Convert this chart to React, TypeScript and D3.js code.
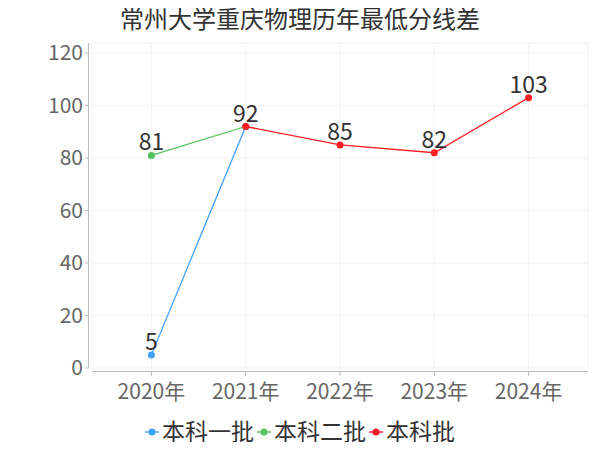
import React from 'react';
import * as d3 from 'd3';

const years = ['2020年', '2021年', '2022年', '2023年', '2024年'];
const yTicks = [0, 20, 40, 60, 80, 100, 120];

const seriesNames = ['本科一批', '本科二批', '本科批'];
const seriesColors = ['#3fa2ff', '#55c15c', '#ff1c24'];
// null = no value for that year
const yiPi: (number | null)[] = [5, 92, null, null, null];
const erPi: (number | null)[] = [81, 92, null, null, null];
const benKePi: (number | null)[] = [null, 92, 85, 82, 103];
const seriesValues = [yiPi, erPi, benKePi];

const W = 600;
const H = 450;
const font = '"Noto Sans CJK SC", "Noto Sans", sans-serif';

const App: React.FC = () => {
  const left = 92;
  const right = 588;
  const top = 43;
  const x = d3.scalePoint<string>().domain(years).range([left, right]).padding(0.63);
  const y = d3.scaleLinear().domain([0, 120]).range([368, 53]);

  const line = d3
    .line<[string, number | null]>()
    .defined(d => d[1] !== null)
    .x(d => x(d[0])!)
    .y(d => y(d[1] as number));

  const vGrid = [left, ...years.map(d => x(d)!), right];
  const hGrid = [...yTicks.map(t => y(t)), top];

  // same value at the same year: draw the label once (last series wins)
  const hiddenLabel = (k: number, i: number) =>
    seriesValues.some((s, j) => j > k && s[i] !== null && s[i] === seriesValues[k][i]);

  const legendItems = [145, 257, 369];

  return (
    <svg width={W} height={H} style={{ display: 'block', margin: -8 }} fontFamily={font}>
      <rect width={W} height={H} fill="#fff" />
      <text x={300} y={28} textAnchor="middle" fontSize={24} fill="#333">
        常州大学重庆物理历年最低分线差
      </text>

      {/* grid */}
      {vGrid.map((gx, i) => (
        <line key={'v' + i} x1={gx} x2={gx} y1={top} y2={368} stroke="#f2f2f2" />
      ))}
      {hGrid.map((gy, i) => (
        <line key={'h' + i} x1={left} x2={right} y1={gy} y2={gy} stroke="#f2f2f2" />
      ))}

      {/* y axis */}
      <line x1={88.5} x2={88.5} y1={top} y2={368} stroke="#bbb" />
      {yTicks.map(t => (
        <g key={t}>
          <line x1={85} x2={88.5} y1={y(t)} y2={y(t)} stroke="#bbb" />
          <text x={83} y={y(t)} dy="0.35em" textAnchor="end" fontSize={21} fill="#666">
            {t}
          </text>
        </g>
      ))}

      {/* x axis */}
      <line x1={left} x2={right} y1={371.5} y2={371.5} stroke="#bbb" />
      {years.map(d => (
        <g key={d}>
          <line x1={x(d)} x2={x(d)} y1={371.5} y2={376} stroke="#bbb" />
          <text x={x(d)} y={399} textAnchor="middle" fontSize={21} fill="#666">
            {d}
          </text>
        </g>
      ))}

      {/* series */}
      {seriesValues.map((s, k) => (
        <g key={k}>
          <path
            d={line(years.map((yr, i) => [yr, s[i]] as [string, number | null])) || ''}
            fill="none"
            stroke={seriesColors[k]}
            strokeWidth={1.3}
          />
          {s.map((v, i) =>
            v === null ? null : (
              <circle key={i} cx={x(years[i])} cy={y(v)} r={3.5} fill={seriesColors[k]} />
            ),
          )}
        </g>
      ))}
      {seriesValues.map((s, k) =>
        s.map((v, i) =>
          v === null || hiddenLabel(k, i) ? null : (
            <text
              key={k + '-' + i}
              x={x(years[i])}
              y={y(v) - 5}
              textAnchor="middle"
              fontSize={23}
              fill="#333"
            >
              {v}
            </text>
          ),
        ),
      )}

      {/* legend */}
      {seriesNames.map((n, k) => (
        <g key={n} transform={`translate(${legendItems[k]},432)`}>
          <line x1={0} x2={14} y1={0} y2={0} stroke={seriesColors[k]} strokeWidth={2} opacity={0.7} />
          <circle cx={7} cy={0} r={3.5} fill={seriesColors[k]} />
          <text x={17} y={0} dy="0.35em" fontSize={23} fill="#333">
            {n}
          </text>
        </g>
      ))}
    </svg>
  );
};

export default App;
